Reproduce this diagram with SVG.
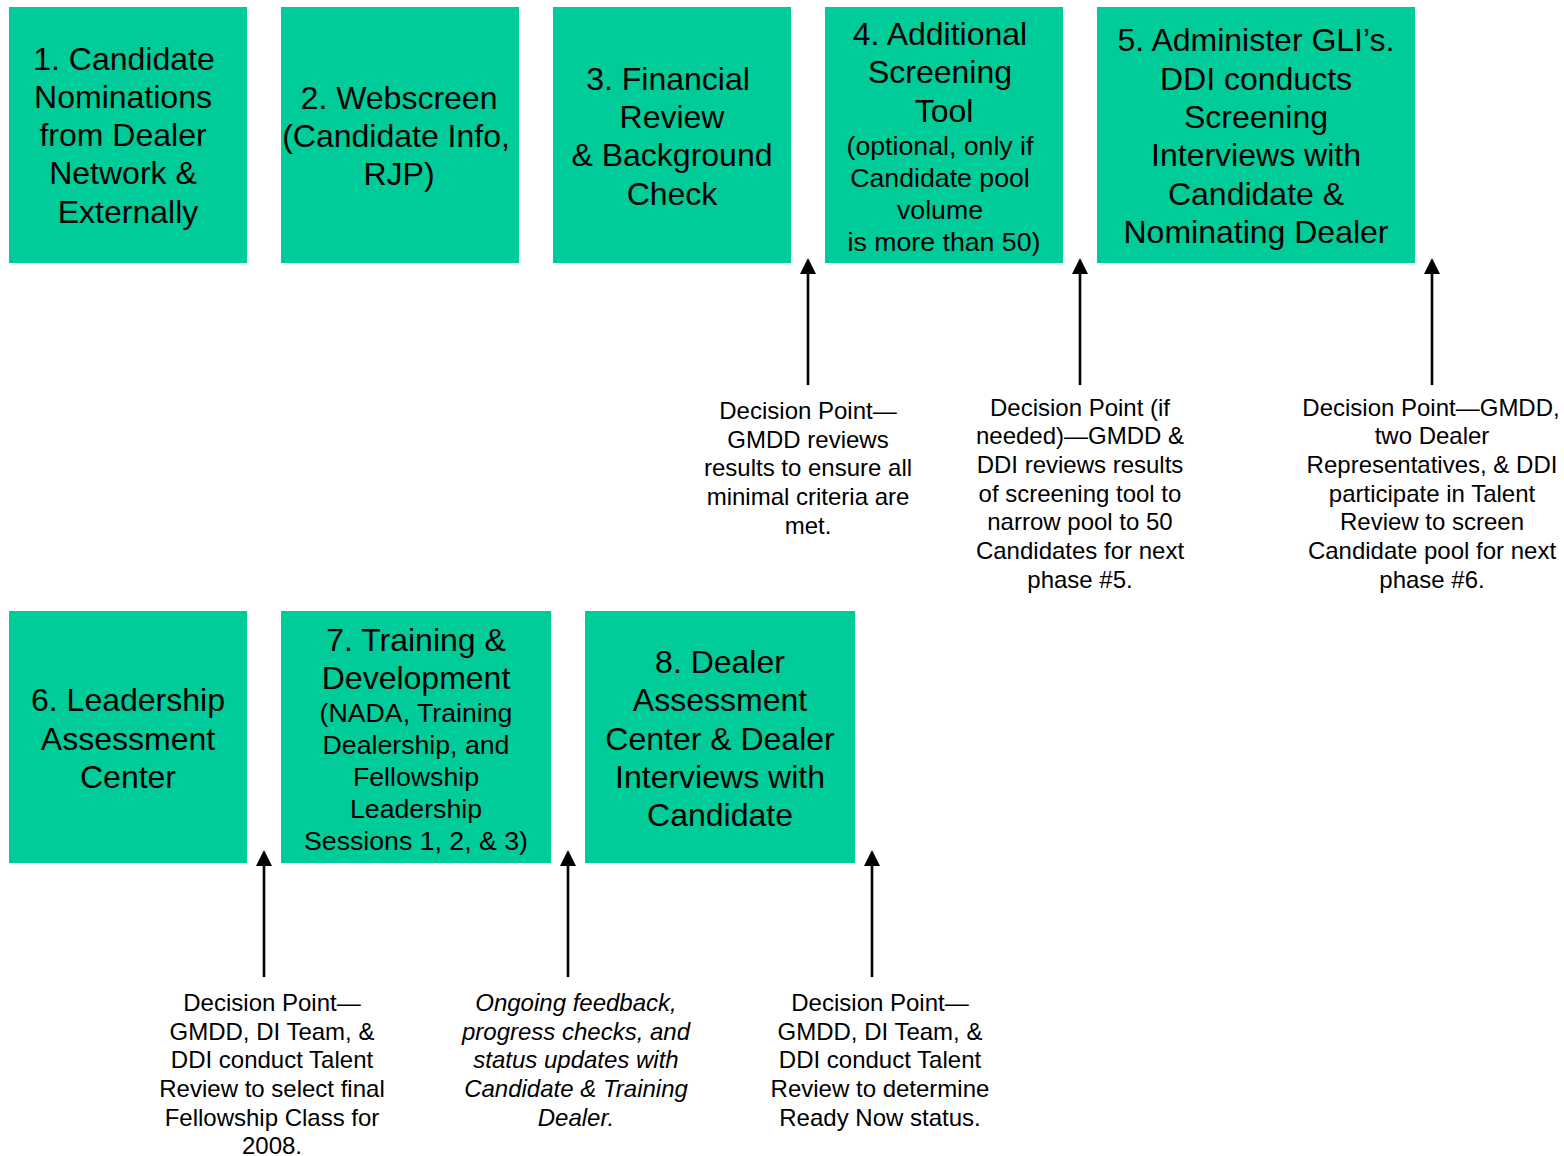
<svg xmlns="http://www.w3.org/2000/svg" width="1564" height="1156" viewBox="0 0 1564 1156">
<style>
.box{fill:#00CC99;}
.t{font-family:"Liberation Sans",Arial,sans-serif;fill:#000;text-anchor:middle;}
.b{font-size:32px;}
.s{font-size:26.7px;}
.d{font-size:24px;}
.i{font-style:italic;}
.c{stroke:#000;stroke-width:2.6;fill:none;}
</style>
<defs>
<marker id="ah" markerUnits="userSpaceOnUse" markerWidth="16" markerHeight="16" refX="0" refY="8" orient="auto" viewBox="0 0 16 16">
<path d="M0,0 L16,8 L0,16 Z" fill="#000"/>
</marker>
</defs>
<rect width="1564" height="1156" fill="#fff"/>

<g id="node1">
<rect class="box" x="9" y="7" width="238" height="256"/>
<text class="t b"><tspan x="124" y="70">1. Candidate</tspan><tspan x="123" y="108">Nominations</tspan><tspan x="123" y="146">from Dealer</tspan><tspan x="123" y="184">Network &amp;</tspan><tspan x="128" y="223">Externally</tspan></text>
</g>
<g id="node2">
<rect class="box" x="281" y="7" width="238" height="256"/>
<text class="t b"><tspan x="399" y="109">2. Webscreen</tspan><tspan x="396" y="147">(Candidate Info,</tspan><tspan x="399" y="185">RJP)</tspan></text>
</g>
<g id="node3">
<rect class="box" x="553" y="7" width="238" height="256"/>
<text class="t b"><tspan x="668" y="90">3. Financial</tspan><tspan x="672" y="128">Review</tspan><tspan x="672" y="166">&amp; Background</tspan><tspan x="672" y="205">Check</tspan></text>
</g>
<g id="node4">
<rect class="box" x="825" y="7" width="238" height="256"/>
<text class="t b"><tspan x="940" y="45">4. Additional</tspan><tspan x="940" y="83">Screening</tspan><tspan x="944" y="122">Tool</tspan></text>
<text class="t s"><tspan x="940" y="155">(optional, only if</tspan><tspan x="940" y="187">Candidate pool</tspan><tspan x="940" y="219">volume</tspan><tspan x="944" y="251">is more than 50)</tspan></text>
</g>
<g id="node5">
<rect class="box" x="1097" y="7" width="318" height="256"/>
<text class="t b"><tspan x="1256" y="51">5. Administer GLI’s.</tspan><tspan x="1256" y="90">DDI conducts</tspan><tspan x="1256" y="128">Screening</tspan><tspan x="1256" y="166">Interviews with</tspan><tspan x="1256" y="205">Candidate &amp;</tspan><tspan x="1256" y="243">Nominating Dealer</tspan></text>
</g>
<g id="node6">
<rect class="box" x="9" y="611" width="238" height="252"/>
<text class="t b"><tspan x="128" y="711">6. Leadership</tspan><tspan x="128" y="750">Assessment</tspan><tspan x="128" y="788">Center</tspan></text>
</g>
<g id="node7">
<rect class="box" x="281" y="611" width="270" height="252"/>
<text class="t b"><tspan x="416" y="651">7. Training &amp;</tspan><tspan x="416" y="689">Development</tspan></text>
<text class="t s"><tspan x="416" y="722">(NADA, Training</tspan><tspan x="416" y="754">Dealership, and</tspan><tspan x="416" y="786">Fellowship</tspan><tspan x="416" y="818">Leadership</tspan><tspan x="416" y="850">Sessions 1, 2, &amp; 3)</tspan></text>
</g>
<g id="node8">
<rect class="box" x="585" y="611" width="270" height="252"/>
<text class="t b"><tspan x="720" y="673">8. Dealer</tspan><tspan x="720" y="711">Assessment</tspan><tspan x="720" y="750">Center &amp; Dealer</tspan><tspan x="720" y="788">Interviews with</tspan><tspan x="720" y="826">Candidate</tspan></text>
</g>

<g id="decision1">
<text class="t d"><tspan x="808" y="419">Decision Point—</tspan><tspan x="808" y="448">GMDD reviews</tspan><tspan x="808" y="476">results to ensure all</tspan><tspan x="808" y="505">minimal criteria are</tspan><tspan x="808" y="534">met.</tspan></text>
</g>
<g id="decision2">
<text class="t d"><tspan x="1080" y="416">Decision Point (if</tspan><tspan x="1080" y="444">needed)—GMDD &amp;</tspan><tspan x="1080" y="473">DDI reviews results</tspan><tspan x="1080" y="502">of screening tool to</tspan><tspan x="1080" y="530">narrow pool to 50</tspan><tspan x="1080" y="559">Candidates for next</tspan><tspan x="1080" y="588">phase #5.</tspan></text>
</g>
<g id="decision3">
<text class="t d"><tspan x="1431" y="416">Decision Point—GMDD,</tspan><tspan x="1432" y="444">two Dealer</tspan><tspan x="1432" y="473">Representatives, &amp; DDI</tspan><tspan x="1432" y="502">participate in Talent</tspan><tspan x="1432" y="530">Review to screen</tspan><tspan x="1432" y="559">Candidate pool for next</tspan><tspan x="1432" y="588">phase #6.</tspan></text>
</g>
<g id="decision6">
<text class="t d"><tspan x="272" y="1011">Decision Point—</tspan><tspan x="272" y="1040">GMDD, DI Team, &amp;</tspan><tspan x="272" y="1068">DDI conduct Talent</tspan><tspan x="272" y="1097">Review to select final</tspan><tspan x="272" y="1126">Fellowship Class for</tspan><tspan x="272" y="1154">2008.</tspan></text>
</g>
<g id="feedback7">
<text class="t d i"><tspan x="576" y="1011">Ongoing feedback,</tspan><tspan x="576" y="1040">progress checks, and</tspan><tspan x="576" y="1068">status updates with</tspan><tspan x="576" y="1097">Candidate &amp; Training</tspan><tspan x="576" y="1126">Dealer.</tspan></text>
</g>
<g id="decision8">
<text class="t d"><tspan x="880" y="1011">Decision Point—</tspan><tspan x="880" y="1040">GMDD, DI Team, &amp;</tspan><tspan x="880" y="1068">DDI conduct Talent</tspan><tspan x="880" y="1097">Review to determine</tspan><tspan x="880" y="1126">Ready Now status.</tspan></text>
</g>

<g id="connectors">
<line class="c" x1="808" y1="385" x2="808" y2="274" marker-end="url(#ah)"/>
<line class="c" x1="1080" y1="385" x2="1080" y2="274" marker-end="url(#ah)"/>
<line class="c" x1="1432" y1="385" x2="1432" y2="274" marker-end="url(#ah)"/>
<line class="c" x1="264" y1="977" x2="264" y2="866" marker-end="url(#ah)"/>
<line class="c" x1="568" y1="977" x2="568" y2="866" marker-end="url(#ah)"/>
<line class="c" x1="872" y1="977" x2="872" y2="866" marker-end="url(#ah)"/>
</g>
</svg>
